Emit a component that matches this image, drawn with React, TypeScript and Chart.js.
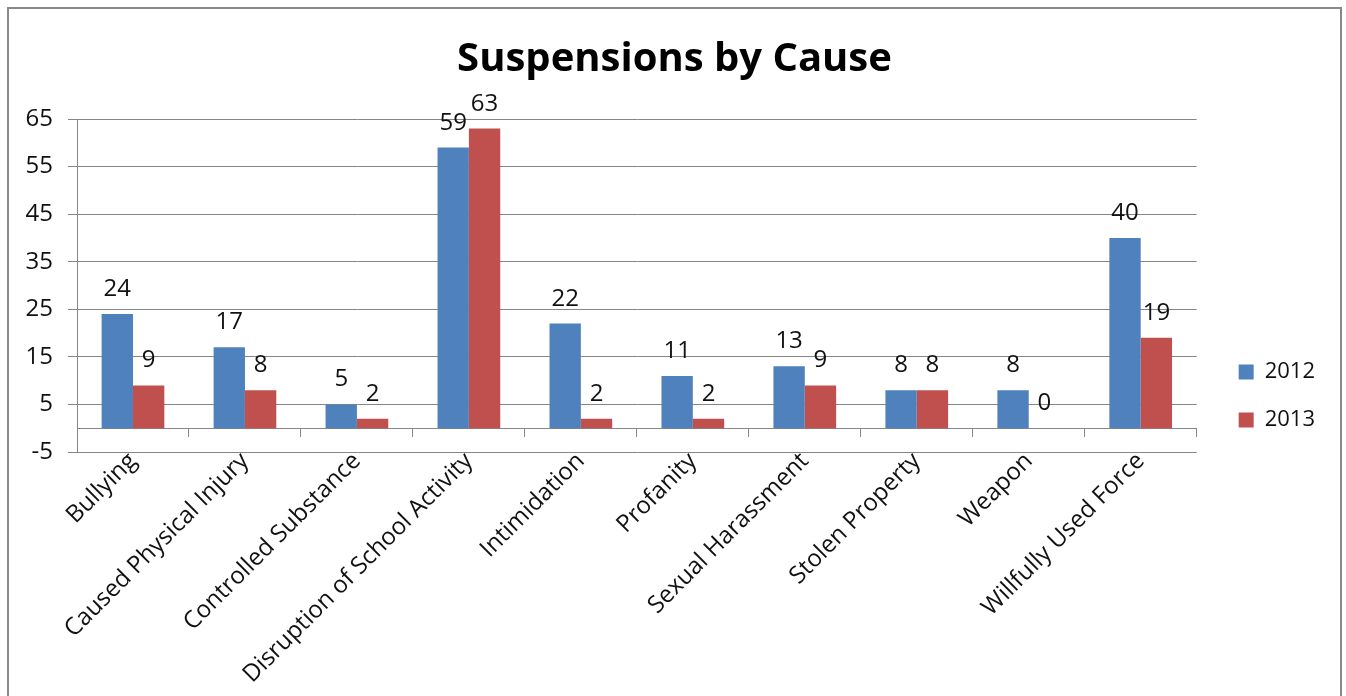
import React, { useEffect, useRef } from "react";
import { Chart, registerables } from "chart.js";

Chart.register(...registerables);

const categories = [
  "Bullying",
  "Caused Physical Injury",
  "Controlled Substance",
  "Disruption of School Activity",
  "Intimidation",
  "Profanity",
  "Sexual Harassment",
  "Stolen Property",
  "Weapon",
  "Willfully Used Force",
];

const values2012 = [24, 17, 5, 59, 22, 11, 13, 8, 8, 40];
const values2013 = [9, 8, 2, 63, 2, 2, 9, 8, 0, 19];

const yTickValues = [-5, 5, 15, 25, 35, 45, 55, 65];

const FONT = "'Open Sans', 'Liberation Sans', sans-serif";
const GRID = "#868686";
const TEXT = "#111111";

// Writes each bar's value just above its top edge.
const valueLabels = {
  id: "valueLabels",
  afterDatasetsDraw(chart: any) {
    const ctx = chart.ctx;
    ctx.save();
    ctx.font = `24px ${FONT}`;
    ctx.fillStyle = TEXT;
    ctx.textAlign = "center";
    ctx.textBaseline = "alphabetic";
    chart.data.datasets.forEach((ds: any, di: number) => {
      const meta = chart.getDatasetMeta(di);
      meta.data.forEach((bar: any, i: number) => {
        ctx.fillText(String(ds.data[i]), bar.x, bar.y - 18);
      });
    });
    ctx.restore();
  },
};

export default function App() {
  const canvasRef = useRef<HTMLCanvasElement | null>(null);

  useEffect(() => {
    document.documentElement.style.overflow = "hidden";
    const canvas = canvasRef.current;
    if (!canvas) return;
    const chart = new Chart(canvas, {
      type: "bar",
      data: {
        labels: categories,
        datasets: [
          {
            label: "2012",
            data: values2012,
            backgroundColor: "#4F81BD",
            categoryPercentage: 0.56,
            barPercentage: 1,
          },
          {
            label: "2013",
            data: values2013,
            backgroundColor: "#C0504D",
            categoryPercentage: 0.56,
            barPercentage: 1,
          },
        ],
      },
      options: {
        animation: false,
        responsive: false,
        maintainAspectRatio: false,
        layout: { padding: { left: 15, right: 15, top: 0, bottom: 0 } },
        plugins: {
          title: {
            display: true,
            text: "Suspensions by Cause",
            color: "#000",
            font: { family: FONT, size: 40, weight: "bold", lineHeight: 1.2 },
            padding: { top: 27, bottom: 35 },
          },
          legend: {
            display: true,
            position: "right",
            align: "center",
            labels: {
              boxWidth: 15,
              boxHeight: 15,
              padding: 26,
              color: TEXT,
              font: { family: FONT, size: 22 },
            },
          },
          tooltip: { enabled: false },
        },
        scales: {
          x: {
            type: "category",
            position: "bottom",
            offset: true,
            grid: { display: false, drawTicks: false },
            border: { display: false },
            ticks: {
              autoSkip: false,
              maxRotation: 45,
              minRotation: 45,
              padding: -5,
              color: TEXT,
              font: { family: FONT, size: 24 },
            },
            afterFit: (s: any) => {
              s.height = 331;
            },
          },
          x0: {
            type: "category",
            position: { y: 0 },
            offset: true,
            grid: {
              display: true,
              drawOnChartArea: false,
              drawTicks: true,
              tickLength: 8,
              offset: true,
              color: GRID,
            },
            border: { display: true, color: GRID, width: 1 },
            ticks: { display: false },
          },
          y: {
            type: "linear",
            position: "left",
            min: -5,
            max: 65,
            afterBuildTicks: (s: any) => {
              s.ticks = yTickValues.map((v) => ({ value: v }));
            },
            grid: { color: GRID, tickLength: 9, drawTicks: true },
            border: { display: true, color: GRID },
            ticks: {
              padding: 15,
              color: TEXT,
              font: { family: FONT, size: 24 },
            },
            afterFit: (s: any) => {
              s.width = 53;
            },
          },
          y2: {
            type: "linear",
            position: "right",
            grid: { display: false, drawTicks: false },
            border: { display: false },
            ticks: { display: false },
            afterFit: (s: any) => {
              s.width = 16;
            },
          },
        },
      },
      plugins: [valueLabels],
    });
    return () => chart.destroy();
  }, []);

  return (
    <div
      style={{
        position: "fixed",
        left: 7,
        top: 7,
        width: 1331,
        height: 800,
        border: "2px solid #898989",
        background: "#fff",
        overflow: "hidden",
      }}
    >
      <canvas ref={canvasRef} width={1331} height={774} style={{ display: "block" }} />
    </div>
  );
}
